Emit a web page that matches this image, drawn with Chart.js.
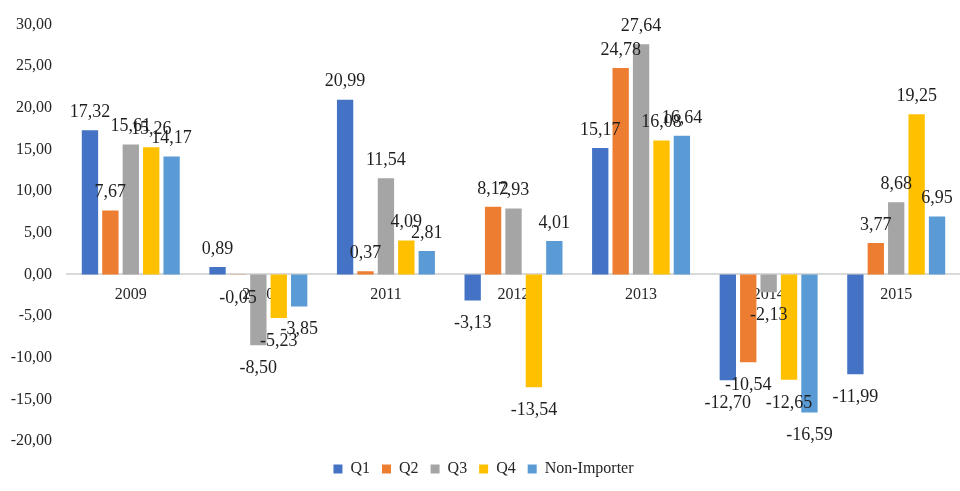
<!DOCTYPE html>
<html>
<head>
<meta charset="utf-8">
<script src="https://cdn.jsdelivr.net/npm/chart.js@4.4.1/dist/chart.umd.min.js"></script>
<style>
  body { margin: 0; background: #fff; }
  #wrap { width: 960px; height: 491px; position: relative; }
</style>
</head>
<body>
<div id="wrap"><canvas id="myChart"></canvas></div>
<script>
Chart.defaults.font.family = "'Liberation Serif', 'Times New Roman', serif";
Chart.defaults.color = '#262626';

var years = ['2009', '2010', '2011', '2012', '2013', '2014', '2015'];

var seriesNames = ['Q1', 'Q2', 'Q3', 'Q4', 'Non-Importer'];
var valuesQ1 = [17.32, 0.89, 20.99, -3.13, 15.17, -12.70, -11.99];
var valuesQ2 = [7.67, -0.05, 0.37, 8.12, 24.78, -10.54, 3.77];
var valuesQ3 = [15.61, -8.50, 11.54, 7.93, 27.64, -2.13, 8.68];
var valuesQ4 = [15.26, -5.23, 4.09, -13.54, 16.08, -12.65, 19.25];
var valuesNonImporter = [14.17, -3.85, 2.81, 4.01, 16.64, -16.59, 6.95];

var colors = ['#4472C4', '#ED7D31', '#A5A5A5', '#FFC000', '#5B9BD5'];

function fmt(v) {
    return v.toFixed(2).replace('.', ',');
}

// values above / below each bar, like excel data labels
var barLabels = {
    id: 'barLabels',
    afterDatasetsDraw: function (chart) {
        var ctx = chart.ctx;
        ctx.save();
        ctx.font = "18px 'Liberation Serif', 'Times New Roman', serif";
        ctx.fillStyle = '#1f1f1f';
        ctx.textAlign = 'center';
        chart.data.datasets.forEach(function (ds, i) {
            var meta = chart.getDatasetMeta(i);
            meta.data.forEach(function (bar, j) {
                var v = ds.data[j];
                if (v >= 0) {
                    ctx.textBaseline = 'bottom';
                    ctx.fillText(fmt(v), bar.x, bar.y - 9);
                } else {
                    ctx.textBaseline = 'top';
                    ctx.fillText(fmt(v), bar.x, bar.y + 14);
                }
            });
        });
        ctx.restore();
    }
};

var allValues = [valuesQ1, valuesQ2, valuesQ3, valuesQ4, valuesNonImporter];

var ctx = document.getElementById('myChart').getContext('2d');
var myChart = new Chart(ctx, {
    type: 'bar',
    data: {
        labels: years,
        datasets: allValues.map(function (vals, i) {
            return {
                label: seriesNames[i],
                data: vals,
                backgroundColor: colors[i],
                categoryPercentage: 0.8,
                barPercentage: 0.8
            };
        })
    },
    options: {
        responsive: true,
        maintainAspectRatio: false,
        animation: false,
        layout: {
            padding: { left: 7, right: 0, top: 23, bottom: 4 }
        },
        plugins: {
            tooltip: { enabled: false },
            legend: {
                position: 'bottom',
                // empty title only to add some room above the legend
                title: { display: true, text: '', font: { size: 5 }, padding: { top: 0, bottom: 2 } },
                labels: {
                    boxWidth: 9,
                    boxHeight: 9,
                    padding: 12,
                    font: { size: 16 },
                    color: '#262626'
                }
            }
        },
        scales: {
            x: {
                position: { y: 0 },
                grid: { display: false, drawTicks: false },
                border: { display: true, color: '#D9D9D9', width: 2 },
                ticks: { padding: 11, font: { size: 16 }, color: '#262626' }
            },
            y: {
                min: -20,
                max: 30,
                grid: { display: false, drawTicks: false },
                border: { display: false },
                afterFit: function (scale) {
                    scale.width = 60;
                },
                ticks: {
                    stepSize: 5,
                    padding: 15,
                    font: { size: 16 },
                    color: '#262626',
                    callback: function (value) {
                        return fmt(value);
                    }
                }
            }
        }
    },
    plugins: [barLabels]
});
</script>
</body>
</html>
